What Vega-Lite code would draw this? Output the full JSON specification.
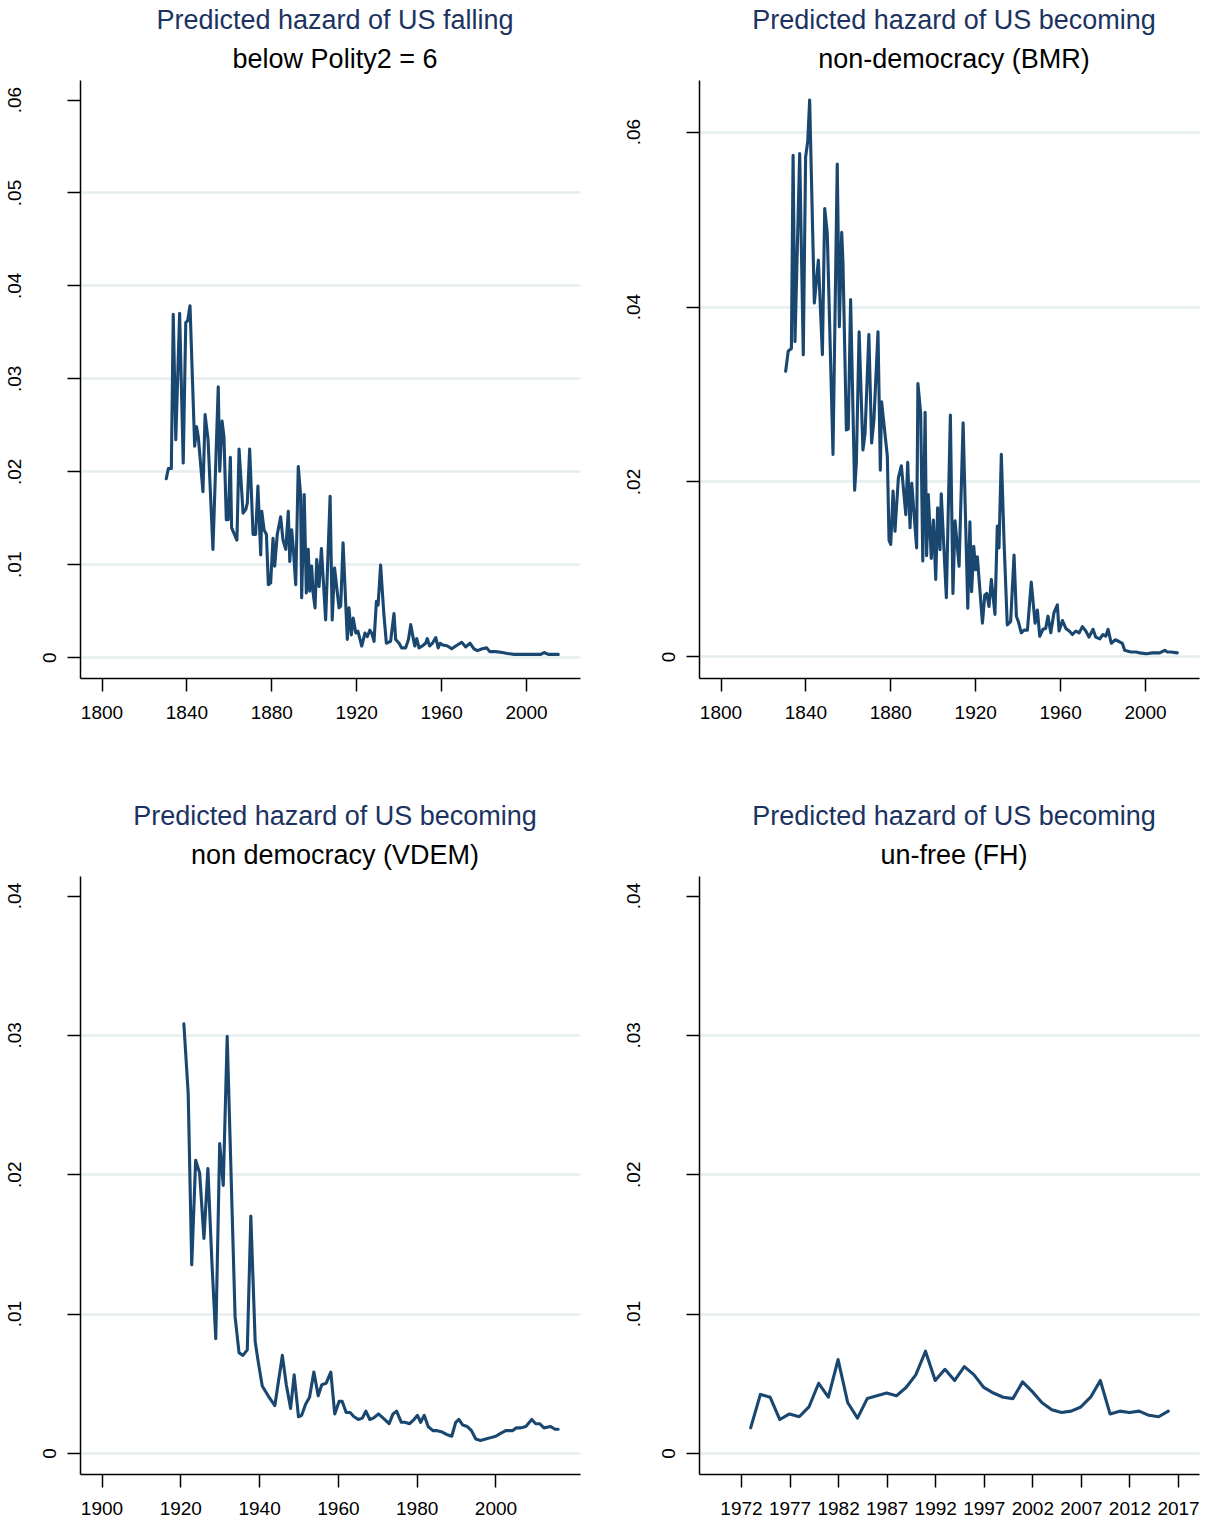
{
 "$schema": "https://vega.github.io/schema/vega-lite/v6.json",
 "background": "white",
 "padding": {"left": 5, "top": 7, "right": 11, "bottom": 3},
 "columns": 2,
 "spacing": {"row": 198, "column": 119},
 "bounds": "flush",
 "datasets": {
  "p1": [
   {"year":1830.5,"value":0.0192},{"year":1831.5,"value":0.0203},{"year":1832.9,"value":0.0203},{"year":1833.8,"value":0.0369},{"year":1835.0,"value":0.0234},{"year":1836.8,"value":0.0370},{"year":1838.5,"value":0.0209},{"year":1839.7,"value":0.0360},{"year":1840.6,"value":0.0362},{"year":1841.7,"value":0.0378},{"year":1843.9,"value":0.0227},{"year":1844.8,"value":0.0248},{"year":1845.6,"value":0.0237},{"year":1847.8,"value":0.0178},{"year":1848.8,"value":0.0261},{"year":1850.2,"value":0.0234},{"year":1852.5,"value":0.0116},{"year":1855.0,"value":0.0291},{"year":1855.7,"value":0.0200},{"year":1856.8,"value":0.0254},{"year":1857.7,"value":0.0237},{"year":1858.8,"value":0.0148},{"year":1859.7,"value":0.0148},{"year":1860.7,"value":0.0215},{"year":1861.3,"value":0.0139},{"year":1863.8,"value":0.0126},{"year":1864.8,"value":0.0224},{"year":1866.7,"value":0.0155},{"year":1868.0,"value":0.0159},{"year":1868.7,"value":0.0166},{"year":1869.8,"value":0.0224},{"year":1871.4,"value":0.0132},{"year":1872.6,"value":0.0132},{"year":1873.7,"value":0.0184},{"year":1875.0,"value":0.0110},{"year":1875.5,"value":0.0157},{"year":1876.6,"value":0.0137},{"year":1877.7,"value":0.0132},{"year":1878.6,"value":0.0078},{"year":1879.7,"value":0.0080},{"year":1880.8,"value":0.0128},{"year":1881.6,"value":0.0098},{"year":1882.8,"value":0.0132},{"year":1884.4,"value":0.0151},{"year":1885.5,"value":0.0126},{"year":1886.8,"value":0.0116},{"year":1888.0,"value":0.0157},{"year":1888.7,"value":0.0103},{"year":1889.6,"value":0.0137},{"year":1890.4,"value":0.0116},{"year":1891.5,"value":0.0078},{"year":1892.7,"value":0.0205},{"year":1893.8,"value":0.0175},{"year":1894.3,"value":0.0064},{"year":1895.5,"value":0.0175},{"year":1896.5,"value":0.0069},{"year":1897.4,"value":0.0116},{"year":1898.1,"value":0.0071},{"year":1899.0,"value":0.0098},{"year":1899.7,"value":0.0069},{"year":1900.6,"value":0.0053},{"year":1901.4,"value":0.0105},{"year":1902.5,"value":0.0076},{"year":1903.6,"value":0.0117},{"year":1905.6,"value":0.0040},{"year":1907.7,"value":0.0173},{"year":1908.7,"value":0.0040},{"year":1909.8,"value":0.0096},{"year":1911.9,"value":0.0053},{"year":1912.7,"value":0.0055},{"year":1913.8,"value":0.0123},{"year":1915.8,"value":0.0019},{"year":1916.6,"value":0.0053},{"year":1917.7,"value":0.0024},{"year":1918.6,"value":0.0042},{"year":1919.8,"value":0.0026},{"year":1920.8,"value":0.0028},{"year":1922.6,"value":0.0012},{"year":1924.1,"value":0.0026},{"year":1925.2,"value":0.0022},{"year":1926.4,"value":0.0029},{"year":1927.3,"value":0.0026},{"year":1928.4,"value":0.0017},{"year":1929.5,"value":0.0060},{"year":1930.3,"value":0.0056},{"year":1931.5,"value":0.0099},{"year":1933.0,"value":0.0047},{"year":1934.2,"value":0.0015},{"year":1936.2,"value":0.0017},{"year":1937.8,"value":0.0047},{"year":1938.6,"value":0.0019},{"year":1940.2,"value":0.0015},{"year":1941.4,"value":0.0010},{"year":1943.3,"value":0.0010},{"year":1944.6,"value":0.0019},{"year":1945.7,"value":0.0035},{"year":1946.8,"value":0.0021},{"year":1947.6,"value":0.0012},{"year":1948.5,"value":0.0020},{"year":1949.6,"value":0.0010},{"year":1951.1,"value":0.0012},{"year":1952.7,"value":0.0015},{"year":1953.5,"value":0.0020},{"year":1954.6,"value":0.0012},{"year":1955.9,"value":0.0015},{"year":1957.5,"value":0.0021},{"year":1958.6,"value":0.0010},{"year":1959.5,"value":0.0015},{"year":1960.9,"value":0.0013},{"year":1963.0,"value":0.0012},{"year":1965.0,"value":0.0009},{"year":1966.9,"value":0.0012},{"year":1969.7,"value":0.0016},{"year":1971.6,"value":0.0011},{"year":1973.6,"value":0.0015},{"year":1975.5,"value":0.0009},{"year":1977.1,"value":0.0007},{"year":1979.4,"value":0.0009},{"year":1981.5,"value":0.0010},{"year":1982.9,"value":0.0006},{"year":1985.7,"value":0.0006},{"year":1988.8,"value":0.0005},{"year":1991.2,"value":0.0004},{"year":1994.3,"value":0.0003},{"year":1998.3,"value":0.0003},{"year":2004.6,"value":0.0003},{"year":2006.9,"value":0.0003},{"year":2008.5,"value":0.0005},{"year":2010.5,"value":0.0003},{"year":2015.2,"value":0.0003}
  ],
  "p2": [
   {"year":1830.7,"value":0.0326},{"year":1831.9,"value":0.0349},{"year":1833.4,"value":0.0352},{"year":1834.2,"value":0.0573},{"year":1835.1,"value":0.0360},{"year":1837.3,"value":0.0575},{"year":1839.0,"value":0.0345},{"year":1840.1,"value":0.0571},{"year":1841.1,"value":0.0589},{"year":1842.0,"value":0.0636},{"year":1844.2,"value":0.0404},{"year":1846.1,"value":0.0453},{"year":1848.0,"value":0.0345},{"year":1849.1,"value":0.0512},{"year":1850.3,"value":0.0484},{"year":1853.0,"value":0.0231},{"year":1855.0,"value":0.0563},{"year":1856.0,"value":0.0377},{"year":1857.1,"value":0.0485},{"year":1857.7,"value":0.0450},{"year":1859.3,"value":0.0259},{"year":1860.2,"value":0.0260},{"year":1861.3,"value":0.0408},{"year":1863.2,"value":0.0190},{"year":1864.0,"value":0.0221},{"year":1865.3,"value":0.0371},{"year":1867.1,"value":0.0236},{"year":1868.1,"value":0.0255},{"year":1869.9,"value":0.0368},{"year":1871.2,"value":0.0244},{"year":1872.3,"value":0.0271},{"year":1874.2,"value":0.0371},{"year":1875.3,"value":0.0213},{"year":1875.9,"value":0.0291},{"year":1878.6,"value":0.0229},{"year":1879.4,"value":0.0133},{"year":1880.2,"value":0.0128},{"year":1881.3,"value":0.0189},{"year":1882.2,"value":0.0143},{"year":1883.8,"value":0.0204},{"year":1885.2,"value":0.0218},{"year":1887.3,"value":0.0162},{"year":1888.2,"value":0.0222},{"year":1889.3,"value":0.0147},{"year":1890.1,"value":0.0198},{"year":1892.4,"value":0.0124},{"year":1893.0,"value":0.0312},{"year":1894.3,"value":0.0278},{"year":1895.3,"value":0.0109},{"year":1896.4,"value":0.0279},{"year":1897.1,"value":0.0115},{"year":1897.9,"value":0.0185},{"year":1899.3,"value":0.0112},{"year":1900.3,"value":0.0156},{"year":1901.4,"value":0.0088},{"year":1902.3,"value":0.0170},{"year":1903.4,"value":0.0122},{"year":1904.0,"value":0.0186},{"year":1906.4,"value":0.0067},{"year":1908.3,"value":0.0276},{"year":1909.5,"value":0.0072},{"year":1910.5,"value":0.0155},{"year":1912.4,"value":0.0103},{"year":1914.3,"value":0.0267},{"year":1916.5,"value":0.0055},{"year":1917.5,"value":0.0154},{"year":1918.3,"value":0.0074},{"year":1919.3,"value":0.0126},{"year":1920.2,"value":0.0099},{"year":1921.0,"value":0.0114},{"year":1923.4,"value":0.0038},{"year":1924.5,"value":0.0070},{"year":1925.4,"value":0.0072},{"year":1926.5,"value":0.0057},{"year":1927.6,"value":0.0088},{"year":1929.3,"value":0.0048},{"year":1930.4,"value":0.0149},{"year":1931.2,"value":0.0124},{"year":1932.3,"value":0.0231},{"year":1933.6,"value":0.0130},{"year":1935.1,"value":0.0036},{"year":1936.7,"value":0.0040},{"year":1938.3,"value":0.0116},{"year":1939.4,"value":0.0046},{"year":1940.3,"value":0.0040},{"year":1941.7,"value":0.0027},{"year":1943.0,"value":0.0030},{"year":1944.6,"value":0.0030},{"year":1946.4,"value":0.0085},{"year":1948.2,"value":0.0038},{"year":1949.3,"value":0.0053},{"year":1950.4,"value":0.0023},{"year":1951.9,"value":0.0031},{"year":1953.2,"value":0.0032},{"year":1954.3,"value":0.0046},{"year":1955.6,"value":0.0027},{"year":1957.1,"value":0.0050},{"year":1958.7,"value":0.0059},{"year":1959.5,"value":0.0029},{"year":1961.1,"value":0.0041},{"year":1962.7,"value":0.0032},{"year":1964.3,"value":0.0029},{"year":1965.8,"value":0.0025},{"year":1967.4,"value":0.0029},{"year":1969.0,"value":0.0027},{"year":1970.5,"value":0.0034},{"year":1972.1,"value":0.0029},{"year":1973.6,"value":0.0022},{"year":1975.5,"value":0.0031},{"year":1976.8,"value":0.0022},{"year":1978.7,"value":0.0020},{"year":1980.2,"value":0.0025},{"year":1981.5,"value":0.0023},{"year":1982.6,"value":0.0031},{"year":1984.1,"value":0.0015},{"year":1985.9,"value":0.0019},{"year":1987.8,"value":0.0017},{"year":1989.3,"value":0.0015},{"year":1990.4,"value":0.0007},{"year":1993.3,"value":0.0005},{"year":1995.9,"value":0.0005},{"year":1997.5,"value":0.0004},{"year":2000.6,"value":0.0003},{"year":2003.4,"value":0.0004},{"year":2006.9,"value":0.0004},{"year":2009.3,"value":0.0007},{"year":2010.5,"value":0.0005},{"year":2012.1,"value":0.0005},{"year":2015.2,"value":0.0004}
  ],
  "p3": [
   {"year":1920.9,"value":0.0308},{"year":1922.0,"value":0.0258},{"year":1922.9,"value":0.0135},{"year":1923.9,"value":0.0210},{"year":1924.9,"value":0.0201},{"year":1926.0,"value":0.0154},{"year":1927.0,"value":0.0204},{"year":1928.0,"value":0.0138},{"year":1929.0,"value":0.0082},{"year":1930.0,"value":0.0222},{"year":1930.9,"value":0.0192},{"year":1931.9,"value":0.0299},{"year":1933.9,"value":0.0098},{"year":1934.9,"value":0.0072},{"year":1935.9,"value":0.0070},{"year":1937.0,"value":0.0074},{"year":1937.9,"value":0.0170},{"year":1939.0,"value":0.0080},{"year":1939.8,"value":0.0065},{"year":1940.8,"value":0.0048},{"year":1942.3,"value":0.0041},{"year":1944.0,"value":0.0034},{"year":1945.9,"value":0.0070},{"year":1946.9,"value":0.0049},{"year":1948.0,"value":0.0032},{"year":1948.9,"value":0.0056},{"year":1950.0,"value":0.0026},{"year":1950.8,"value":0.0027},{"year":1951.8,"value":0.0035},{"year":1952.8,"value":0.0040},{"year":1953.9,"value":0.0058},{"year":1955.0,"value":0.0041},{"year":1955.9,"value":0.0049},{"year":1957.0,"value":0.0050},{"year":1958.2,"value":0.0058},{"year":1959.2,"value":0.0028},{"year":1960.3,"value":0.0037},{"year":1961.1,"value":0.0037},{"year":1962.1,"value":0.0029},{"year":1963.1,"value":0.0029},{"year":1964.1,"value":0.0026},{"year":1965.2,"value":0.0024},{"year":1966.2,"value":0.0025},{"year":1967.1,"value":0.0030},{"year":1968.1,"value":0.0024},{"year":1969.0,"value":0.0025},{"year":1970.3,"value":0.0028},{"year":1971.5,"value":0.0025},{"year":1973.0,"value":0.0021},{"year":1974.0,"value":0.0028},{"year":1974.9,"value":0.0030},{"year":1976.1,"value":0.0022},{"year":1977.0,"value":0.0022},{"year":1978.2,"value":0.0021},{"year":1979.3,"value":0.0024},{"year":1980.2,"value":0.0027},{"year":1981.0,"value":0.0022},{"year":1981.9,"value":0.0027},{"year":1982.9,"value":0.0019},{"year":1984.1,"value":0.0016},{"year":1985.2,"value":0.0016},{"year":1986.5,"value":0.0015},{"year":1987.8,"value":0.0013},{"year":1988.9,"value":0.0012},{"year":1989.9,"value":0.0022},{"year":1990.7,"value":0.0024},{"year":1991.7,"value":0.0020},{"year":1992.8,"value":0.0019},{"year":1993.9,"value":0.0016},{"year":1995.0,"value":0.0010},{"year":1996.2,"value":0.0009},{"year":1997.5,"value":0.0010},{"year":1998.8,"value":0.0011},{"year":2000.1,"value":0.0012},{"year":2001.3,"value":0.0014},{"year":2002.6,"value":0.0016},{"year":2004.3,"value":0.0016},{"year":2005.3,"value":0.0018},{"year":2006.4,"value":0.0018},{"year":2007.7,"value":0.0019},{"year":2009.2,"value":0.0024},{"year":2010.2,"value":0.0021},{"year":2011.2,"value":0.0021},{"year":2012.3,"value":0.0018},{"year":2014.0,"value":0.0019},{"year":2015.1,"value":0.0017},{"year":2015.9,"value":0.0017}
  ],
  "p4": [
   {"year":1973,"value":0.0018},{"year":1974,"value":0.0042},{"year":1975,"value":0.0040},{"year":1976,"value":0.0024},{"year":1977,"value":0.0028},{"year":1978,"value":0.0026},{"year":1979,"value":0.0033},{"year":1980,"value":0.0050},{"year":1981,"value":0.0040},{"year":1982,"value":0.0067},{"year":1983,"value":0.0036},{"year":1984,"value":0.0025},{"year":1985,"value":0.0039},{"year":1986,"value":0.0041},{"year":1987,"value":0.0043},{"year":1988,"value":0.0041},{"year":1989,"value":0.0047},{"year":1990,"value":0.0056},{"year":1991,"value":0.0073},{"year":1992,"value":0.0052},{"year":1993,"value":0.0060},{"year":1994,"value":0.0052},{"year":1995,"value":0.0062},{"year":1996,"value":0.0056},{"year":1997,"value":0.0047},{"year":1998,"value":0.0043},{"year":1999,"value":0.0040},{"year":2000,"value":0.0039},{"year":2001,"value":0.0051},{"year":2002,"value":0.0044},{"year":2003,"value":0.0036},{"year":2004,"value":0.0031},{"year":2005,"value":0.0029},{"year":2006,"value":0.0030},{"year":2007,"value":0.0033},{"year":2008,"value":0.0040},{"year":2009,"value":0.0052},{"year":2010,"value":0.0028},{"year":2011,"value":0.0030},{"year":2012,"value":0.0029},{"year":2013,"value":0.0030},{"year":2014,"value":0.0027},{"year":2015,"value":0.0026},{"year":2016,"value":0.0030}
  ]
 },
 "concat": [
  {
   "title": {"text": "Predicted hazard of US falling", "subtitle": "below Polity2 = 6"},
   "width": 500, "height": 598,
   "data": {"name": "p1"},
   "mark": {"type": "line", "color": "#1a476f", "strokeWidth": 3.1, "strokeJoin": "round", "strokeCap": "round"},
   "encoding": {
    "x": {"field": "year", "type": "quantitative", "scale": {"domain": [1789.87, 2025.43], "nice": false, "zero": false},
          "axis": {"values": [1800, 1840, 1880, 1920, 1960, 2000], "title": null, "format": "d", "grid": false}},
    "y": {"field": "value", "type": "quantitative", "scale": {"domain": [-0.00224, 0.0621], "nice": false, "zero": false},
          "axis": {"values": [0, 0.01, 0.02, 0.03, 0.04, 0.05, 0.06], "title": null, "grid": true,
                   "labelExpr": "datum.value == 0 ? '0' : substring(format(datum.value, '.2f'), 1)",
                   "labelPadding": {"condition": {"test": "datum.value == 0", "value": 12}, "value": 47},
                   "gridOpacity": {"condition": {"test": "datum.value > 0.055", "value": 0}, "value": 1}}}
   }
  },
  {
   "title": {"text": "Predicted hazard of US becoming", "subtitle": "non-democracy (BMR)"},
   "width": 500, "height": 598,
   "data": {"name": "p2"},
   "mark": {"type": "line", "color": "#1a476f", "strokeWidth": 3.1, "strokeJoin": "round", "strokeCap": "round"},
   "encoding": {
    "x": {"field": "year", "type": "quantitative", "scale": {"domain": [1789.87, 2025.43], "nice": false, "zero": false},
          "axis": {"values": [1800, 1840, 1880, 1920, 1960, 2000], "title": null, "format": "d", "grid": false}},
    "y": {"field": "value", "type": "quantitative", "scale": {"domain": [-0.00247, 0.0659], "nice": false, "zero": false},
          "axis": {"values": [0, 0.02, 0.04, 0.06], "title": null, "grid": true,
                   "labelExpr": "datum.value == 0 ? '0' : substring(format(datum.value, '.2f'), 1)",
                   "labelPadding": {"condition": {"test": "datum.value == 0", "value": 12}, "value": 47}}}
   }
  },
  {
   "title": {"text": "Predicted hazard of US becoming", "subtitle": "non democracy (VDEM)"},
   "width": 500, "height": 598,
   "data": {"name": "p3"},
   "mark": {"type": "line", "color": "#1a476f", "strokeWidth": 3.1, "strokeJoin": "round", "strokeCap": "round"},
   "encoding": {
    "x": {"field": "year", "type": "quantitative", "scale": {"domain": [1894.54, 2021.45], "nice": false, "zero": false},
          "axis": {"values": [1900, 1920, 1940, 1960, 1980, 2000], "title": null, "format": "d", "grid": false}},
    "y": {"field": "value", "type": "quantitative", "scale": {"domain": [-0.00151, 0.0414], "nice": false, "zero": false},
          "axis": {"values": [0, 0.01, 0.02, 0.03, 0.04], "title": null, "grid": true,
                   "labelExpr": "datum.value == 0 ? '0' : substring(format(datum.value, '.2f'), 1)",
                   "labelPadding": {"condition": {"test": "datum.value == 0", "value": 12}, "value": 47},
                   "gridOpacity": {"condition": {"test": "datum.value > 0.035", "value": 0}, "value": 1}}}
   }
  },
  {
   "title": {"text": "Predicted hazard of US becoming", "subtitle": "un-free (FH)"},
   "width": 500, "height": 598,
   "data": {"name": "p4"},
   "mark": {"type": "line", "color": "#1a476f", "strokeWidth": 3.1, "strokeJoin": "round", "strokeCap": "round"},
   "encoding": {
    "x": {"field": "year", "type": "quantitative", "scale": {"domain": [1967.68, 2019.16], "nice": false, "zero": false},
          "axis": {"values": [1972, 1977, 1982, 1987, 1992, 1997, 2002, 2007, 2012, 2017], "title": null, "format": "d", "grid": false}},
    "y": {"field": "value", "type": "quantitative", "scale": {"domain": [-0.00151, 0.0414], "nice": false, "zero": false},
          "axis": {"values": [0, 0.01, 0.02, 0.03, 0.04], "title": null, "grid": true,
                   "labelExpr": "datum.value == 0 ? '0' : substring(format(datum.value, '.2f'), 1)",
                   "labelPadding": {"condition": {"test": "datum.value == 0", "value": 12}, "value": 47},
                   "gridOpacity": {"condition": {"test": "datum.value > 0.035", "value": 0}, "value": 1}}}
   }
  }
 ],
 "config": {
  "font": "Liberation Sans",
  "view": {"stroke": null},
  "axis": {"domainColor": "#000000", "domainWidth": 1.5, "tickColor": "#000000", "tickWidth": 1.5, "tickSize": 13,
           "labelFontSize": 19, "labelColor": "#000000", "labelFont": "Liberation Sans",
           "gridColor": "#e6eef1", "gridWidth": 2.4, "labelOverlap": false, "labelFlush": false},
  "axisX": {"labelPadding": 12, "labelAngle": 0},
  "axisY": {"labelAngle": -90, "labelAlign": "center", "labelBaseline": "alphabetic"},
  "title": {"fontSize": 27, "color": "#1c3361", "font": "Liberation Sans", "fontWeight": "normal",
            "subtitleFontSize": 27, "subtitleColor": "#000000", "subtitleFont": "Liberation Sans",
            "anchor": "middle", "offset": 6, "subtitlePadding": 12, "dx": 5}
 }
}
